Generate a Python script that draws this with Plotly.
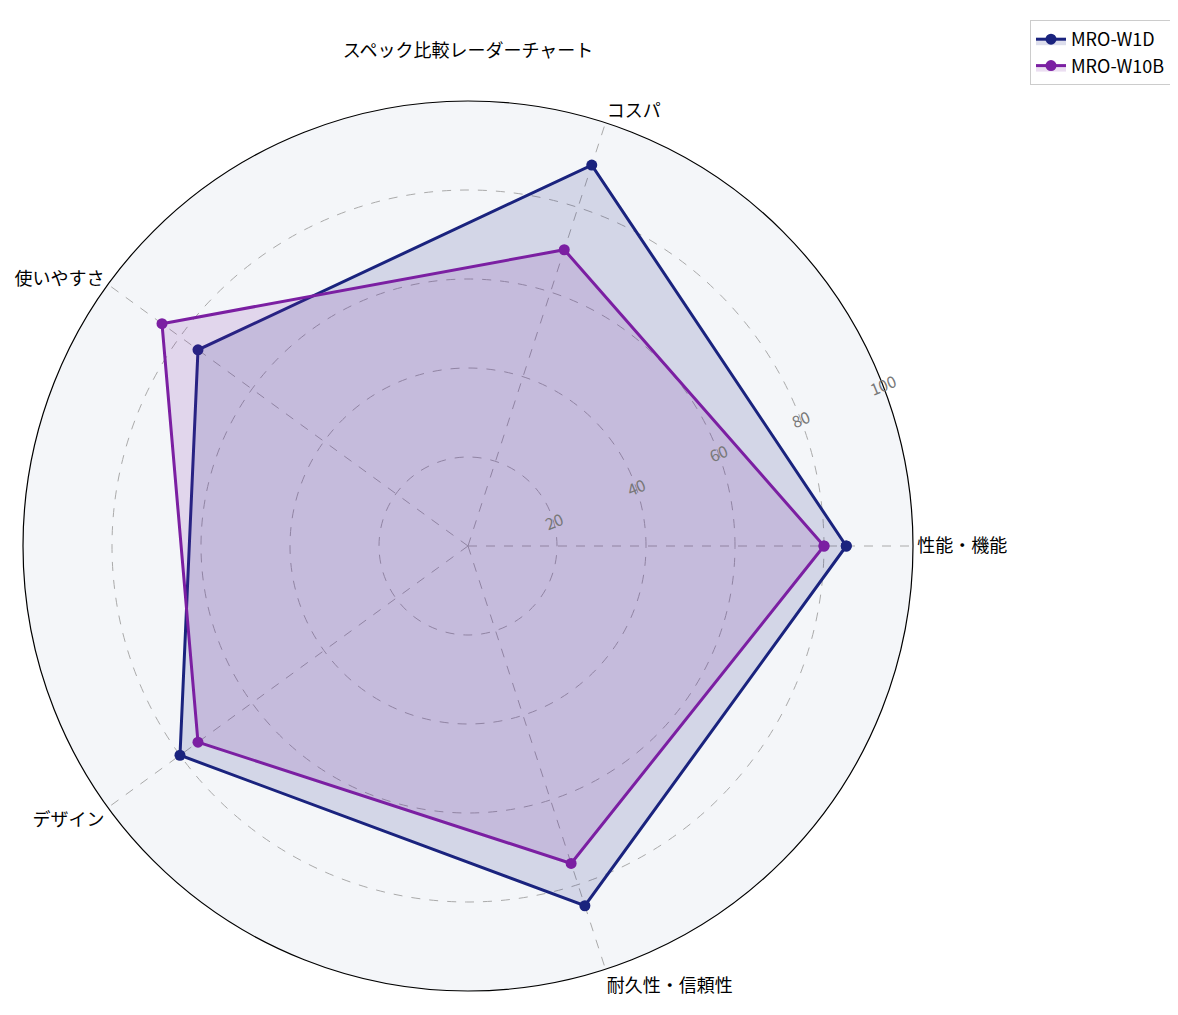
import plotly.graph_objects as go

categories = ["性能・機能", "コスパ", "使いやすさ", "デザイン", "耐久性・信頼性"]
w1d = [85, 90, 75, 80, 85]
w10b = [80, 70, 85, 75, 75]
series = [("MRO-W1D", w1d, "#1a237e", "rgba(26,35,126,0.15)"),
          ("MRO-W10B", w10b, "#7b1fa2", "rgba(123,31,162,0.15)")]

fig = go.Figure()
for name, vals, col, fill in series:
    fig.add_trace(go.Scatterpolar(
        r=vals + vals[:1], theta=categories + categories[:1], name=name,
        mode="lines+markers", fill="toself", fillcolor=fill,
        line=dict(color=col, width=3), marker=dict(size=11, color=col)))

W, H = 1178, 1015
fig.update_layout(
    width=W, height=H, margin=dict(l=0, r=0, t=0, b=0),
    paper_bgcolor="white",
    font=dict(family="Noto Sans CJK JP", size=17, color="black"),
    title=dict(text="スペック比較レーダーチャート", x=460 / W, y=1 - 43 / H,
               xanchor="center", yanchor="middle", font=dict(size=18)),
    polar=dict(
        domain=dict(x=[15 / W, 905 / W], y=[1 - 983 / H, 1 - 93 / H]),
        bgcolor="#f4f6f9",
        angularaxis=dict(direction="counterclockwise", rotation=0,
                         linecolor="black", linewidth=1.2,
                         gridcolor="#aaaaaa", griddash="dash", gridwidth=0.8,
                         ticks="", tickfont=dict(size=18)),
        radialaxis=dict(range=[0, 100], tickvals=[20, 40, 60, 80, 100],
                        angle=22.5, tickangle=0, showline=False, ticks="",
                        gridcolor="#aaaaaa", griddash="dash", gridwidth=0.8,
                        tickfont=dict(size=16, color="#777777"))),
    legend=dict(x=1 - 15 / W, y=1 - 12 / H, xanchor="right", yanchor="top",
                bordercolor="#cccccc", borderwidth=1, font=dict(size=18)),
)
fig.write_html("out.html")
